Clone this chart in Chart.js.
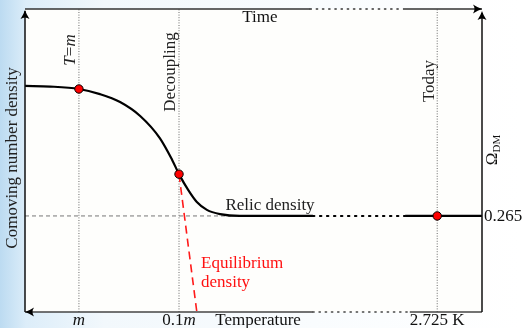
<!DOCTYPE html>
<html>
<head>
<meta charset="utf-8">
<script src="https://cdn.jsdelivr.net/npm/chart.js@4.4.1/dist/chart.umd.min.js"></script>
<style>
html, body { margin: 0; padding: 0; }
body {
  width: 522px; height: 328px; overflow: hidden;
  background: linear-gradient(to right, #bcdbf1 0%, #dcedf9 5%, #f2f8fc 20%, #f9fcfe 60%, #ffffff 100%);
}
#wrap { width: 522px; height: 328px; position: relative; }
</style>
</head>
<body>
<div id="wrap"><canvas id="c"></canvas></div>
<script>
// data space: x 0..100 (time / falling temperature), y 0..100 (comoving density)
var curveX = [0, 5.5, 11.8, 16.4, 20.8, 25.2, 29.5, 32.2, 33.7, 35.7, 37.6, 39.8, 42.7, 47.0, 63];
var curveY = [74.6, 74.4, 73.6, 71.9, 69.3, 64.7, 57.4, 50.2, 45.5, 40.3, 36.3, 33.7, 32.3, 31.7, 31.7];

var relicLevel = 31.7;
var relicDotted = [63, 83.2];
var relicToday = [83.2, 100];
var relicGuide = [0, 45];

var equilX = [33.7, 37.6];
var equilY = [45.5, 0];

var markX = [11.8, 33.7, 90.2];
var markY = [73.6, 45.5, 31.7];

var guideX = [11.8, 33.7, 90.2];
var guideTop = ['T=m', 'Decoupling', 'Today'];
var tickLabels = ['m', '0.1m', '2.725 K'];
var rightTick = '0.265';

// axis breaks (solid, dotted, solid)
var topBreak = [62.4, 82.7];
var bottomBreak = [63, 84.2];

function pts(xs, ys) {
  return xs.map(function(x, i) { return { x: x, y: ys[i] }; });
}

var datasets = [];
guideX.forEach(function(gx) {
  datasets.push({
    data: pts([gx, gx], [0, 100]),
    borderColor: '#6a6a6a', borderWidth: 1, borderDash: [1, 1.6],
    pointRadius: 0, showLine: true, order: 5
  });
});
datasets.push({
  data: pts(relicGuide, [relicLevel, relicLevel]),
  borderColor: '#777', borderWidth: 1, borderDash: [4, 3],
  pointRadius: 0, showLine: true, order: 5
});
datasets.push({
  data: pts(equilX, equilY),
  borderColor: '#ff1a1a', borderWidth: 1.6, borderDash: [8, 5],
  pointRadius: 0, showLine: true, order: 4
});
datasets.push({
  data: pts(curveX, curveY),
  borderColor: '#000', borderWidth: 2.2, cubicInterpolationMode: 'monotone',
  pointRadius: 0, showLine: true, order: 3
});
datasets.push({
  data: pts(relicDotted, [relicLevel, relicLevel]),
  borderColor: '#000', borderWidth: 2, borderDash: [1.5, 5.5], borderCapStyle: 'round',
  pointRadius: 0, showLine: true, order: 3
});
datasets.push({
  data: pts(relicToday, [relicLevel, relicLevel]),
  borderColor: '#000', borderWidth: 2.2,
  pointRadius: 0, showLine: true, order: 3
});
datasets.push({
  data: pts(markX, markY),
  backgroundColor: '#ff0000', borderColor: '#000', borderWidth: 1,
  pointRadius: 4.2, showLine: false, order: 1
});

var SERIF = '"Liberation Serif", "DejaVu Serif", serif';

function arrowHead(ctx, x, y, ang) {
  ctx.save();
  ctx.translate(x, y);
  ctx.rotate(ang);
  ctx.beginPath();
  ctx.moveTo(0, 0);
  ctx.quadraticCurveTo(-4, -1.2, -9, -4.5);
  ctx.quadraticCurveTo(-6, 0, -9, 4.5);
  ctx.quadraticCurveTo(-4, 1.2, 0, 0);
  ctx.closePath();
  ctx.fillStyle = '#000';
  ctx.fill();
  ctx.restore();
}

// runs: [[text, italic], ...], drawn centred at (x,y)
function runs(ctx, parts, x, y, size, color, rot) {
  ctx.save();
  ctx.translate(x, y);
  if (rot) ctx.rotate(rot);
  ctx.fillStyle = color;
  ctx.textBaseline = 'middle';
  ctx.textAlign = 'left';
  var w = 0;
  parts.forEach(function(p) {
    ctx.font = (p[1] ? 'italic ' : '') + size + 'px ' + SERIF;
    w += ctx.measureText(p[0]).width;
  });
  var cx = -w / 2;
  parts.forEach(function(p) {
    ctx.font = (p[1] ? 'italic ' : '') + size + 'px ' + SERIF;
    ctx.fillText(p[0], cx, 0);
    cx += ctx.measureText(p[0]).width;
  });
  ctx.restore();
}

function hline(ctx, xs, x0, x1, y, dash, w, color) {
  ctx.save();
  ctx.beginPath();
  ctx.setLineDash(dash);
  ctx.lineWidth = w;
  ctx.strokeStyle = color;
  ctx.lineCap = dash.length ? 'round' : 'butt';
  ctx.moveTo(xs.getPixelForValue(x0), y);
  ctx.lineTo(xs.getPixelForValue(x1), y);
  ctx.stroke();
  ctx.restore();
}

var decor = {
  id: 'decor',
  beforeDatasetsDraw: function(chart) {
    var a = chart.chartArea, ctx = chart.ctx;
    ctx.save();
    ctx.fillStyle = '#fefefc';
    ctx.fillRect(a.left, a.top, a.right - a.left, a.bottom - a.top);
    ctx.restore();
  },
  afterDatasetsDraw: function(chart) {
    var a = chart.chartArea, ctx = chart.ctx;
    var xs = chart.scales.x, ys = chart.scales.y;

    // top time axis
    hline(ctx, xs, 0, topBreak[0], a.top, [], 1.5, '#333');
    hline(ctx, xs, topBreak[0], topBreak[1], a.top, [1.2, 5], 1.6, '#333');
    hline(ctx, xs, topBreak[1], 100, a.top, [], 1.5, '#333');
    // bottom temperature axis
    hline(ctx, xs, 0, bottomBreak[0], a.bottom, [], 1.5, '#444');
    hline(ctx, xs, bottomBreak[0], bottomBreak[1], a.bottom, [1.2, 5], 1.6, '#444');
    hline(ctx, xs, bottomBreak[1], 100, a.bottom, [], 1.5, '#444');

    // left and right vertical axes
    ctx.save();
    ctx.lineWidth = 1.5;
    ctx.strokeStyle = '#111';
    ctx.beginPath();
    ctx.moveTo(a.left, a.bottom); ctx.lineTo(a.left, a.top + 2);
    ctx.moveTo(a.right, a.bottom); ctx.lineTo(a.right, a.top + 4);
    ctx.stroke();
    ctx.restore();

    arrowHead(ctx, a.left, a.top + 1, -Math.PI / 2);
    arrowHead(ctx, a.right, a.top + 2, -Math.PI / 2);
    arrowHead(ctx, a.right, a.top, 0);
    arrowHead(ctx, a.left, a.bottom, Math.PI);

    // texts
    var s = 17;
    runs(ctx, [['Time', false]], xs.getPixelForValue(51.4), a.top + 9, s, '#111');
    runs(ctx, [['Temperature', false]], xs.getPixelForValue(51), a.bottom + 9, s, '#111');

    var tickParts = [[['m', true]], [['0.1', false], ['m', true]], [['2.725 K', false]]];
    guideX.forEach(function(gx, i) {
      runs(ctx, tickParts[i], xs.getPixelForValue(gx), a.bottom + 9, s, '#111');
    });

    var topParts = [[['T', true], ['=', false], ['m', true]], [['Decoupling', false]], [['Today', false]]];
    var topMid = [50, 72, 81];
    guideX.forEach(function(gx, i) {
      runs(ctx, topParts[i], xs.getPixelForValue(gx) - 8, topMid[i], s, '#222', -Math.PI / 2);
    });

    ctx.save();
    ctx.font = s + 'px ' + SERIF;
    ctx.fillStyle = '#111';
    ctx.textBaseline = 'middle';
    ctx.textAlign = 'left';
    ctx.fillText(rightTick, a.right + 2, ys.getPixelForValue(relicLevel) + 1);
    ctx.restore();

    // Omega_DM rotated
    ctx.save();
    ctx.translate(a.right + 11, 150);
    ctx.rotate(-Math.PI / 2);
    ctx.fillStyle = '#111';
    ctx.textBaseline = 'middle';
    ctx.font = s + 'px ' + SERIF;
    var ow = ctx.measureText('\u03A9').width;
    ctx.font = '11px ' + SERIF;
    var dw = ctx.measureText('DM').width;
    var st = -(ow + dw) / 2;
    ctx.font = s + 'px ' + SERIF;
    ctx.fillText('\u03A9', st, 0);
    ctx.font = '11px ' + SERIF;
    ctx.fillText('DM', st + ow, 4);
    ctx.restore();

    runs(ctx, [['Comoving number density', false]], 13, 158, s, '#222', -Math.PI / 2);
    runs(ctx, [['Relic density', false]], 270, ys.getPixelForValue(relicLevel) - 10, s, '#222');

    ctx.save();
    ctx.font = s + 'px ' + SERIF;
    ctx.fillStyle = '#ff1010';
    ctx.textBaseline = 'middle';
    ctx.textAlign = 'left';
    ctx.fillText('Equilibrium', 201, 264);
    ctx.fillText('density', 201, 283);
    ctx.restore();
  }
};

new Chart(document.getElementById('c'), {
  type: 'scatter',
  data: { datasets: datasets },
  options: {
    responsive: true,
    maintainAspectRatio: false,
    animation: false,
    devicePixelRatio: 1,
    clip: false,
    layout: { padding: { left: 25, right: 40, top: 9, bottom: 16 } },
    plugins: { legend: { display: false }, tooltip: { enabled: false } },
    scales: {
      x: { type: 'linear', min: 0, max: 100, display: false },
      y: { type: 'linear', min: 0, max: 100, display: false }
    }
  },
  plugins: [decor]
});
</script>
</body>
</html>
